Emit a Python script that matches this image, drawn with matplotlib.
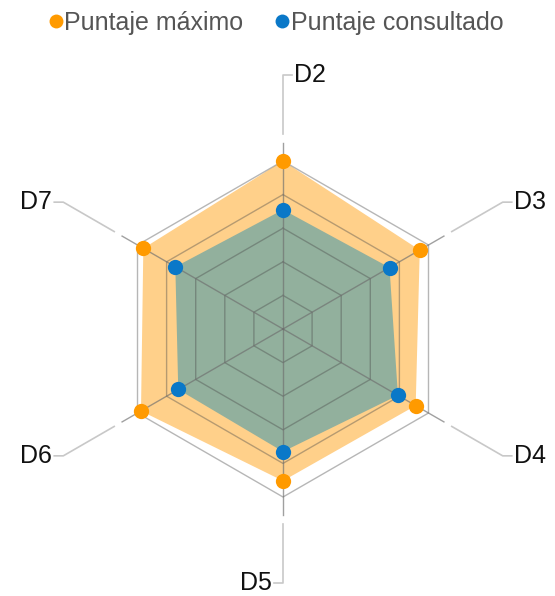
import numpy as np
import matplotlib.pyplot as plt
from matplotlib.lines import Line2D

plt.rcParams["font.family"] = ["Liberation Sans", "DejaVu Sans"]

# Data (scale 0-5, five grid rings)
dims = ["D2", "D3", "D4", "D5", "D6", "D7"]
puntaje_maximo = [5.0, 4.7, 4.56, 4.52, 4.88, 4.8]
puntaje_consultado = [3.55, 3.66, 3.95, 3.65, 3.6, 3.7]
levels = [1, 2, 3, 4, 5]

orange = "#FF9A00"
blue = "#0A78C8"

# D2 on top, going clockwise
angles = np.deg2rad(90 - 60 * np.arange(len(dims)))


def to_xy(r, a):
    r = np.asarray(r, dtype=float)
    return r * np.cos(a), r * np.sin(a)


fig = plt.figure(figsize=(5.55, 5.96), dpi=100)
ax = fig.add_axes([0, 0, 1, 1])
px = 33.6  # pixels per grid level
ax.set_xlim(-283 / px, (555 - 283) / px)
ax.set_ylim(-267 / px, (596 - 267) / px)
ax.set_aspect("equal")
ax.axis("off")

# filled areas
x, y = to_xy(puntaje_maximo, angles)
ax.fill(x, y, color="#FFD08A", lw=0, zorder=1)
x, y = to_xy(puntaje_consultado, angles)
ax.fill(x, y, color="#92B09D", lw=0, zorder=2)

# hexagon grid on top of the fills
for lv in levels:
    gx, gy = to_xy([lv] * (len(dims) + 1), np.append(angles, angles[0]))
    ax.plot(gx, gy, color="#4a4a4a", alpha=0.4, lw=1, zorder=3)

# spokes, leader lines and labels
for a, name in zip(angles, dims):
    ax.plot(*to_xy([0, 5.53], a), color="#6e6e6e", alpha=0.65, lw=1, zorder=3)
    lx, ly = to_xy([5.8, 7.55], a)
    c = np.cos(a)
    side = 1 if c > 1e-6 else (-1 if c < -1e-6 else (1 if np.sin(a) > 0 else -1))
    ex = lx[1] + side * 0.27
    ax.plot([lx[0], lx[1], ex], [ly[0], ly[1], ly[1]],
            color="#c8c8c8", lw=1.2, zorder=3)
    ax.text(ex + side * 0.06, ly[1], name, fontsize=18, color="#111111",
            ha="left" if side > 0 else "right", va="center")

# points
x, y = to_xy(puntaje_maximo, angles)
ax.plot(x, y, "o", color=orange, ms=11, mec="none", zorder=5)
x, y = to_xy(puntaje_consultado, angles)
ax.plot(x, y, "o", color=blue, ms=11, mec="none", zorder=5)

handles = [
    Line2D([], [], marker="o", ls="none", color=orange, ms=10, mec="none"),
    Line2D([], [], marker="o", ls="none", color=blue, ms=10, mec="none"),
]
fig.legend(handles, ["Puntaje máximo", "Puntaje consultado"], loc="center",
           bbox_to_anchor=(0.498, 0.961), ncol=2, frameon=False,
           fontsize=18, labelcolor="#555555", handlelength=0.5,
           handletextpad=0.1, columnspacing=1.3, borderpad=0)

fig.savefig("out.png", dpi=100)
